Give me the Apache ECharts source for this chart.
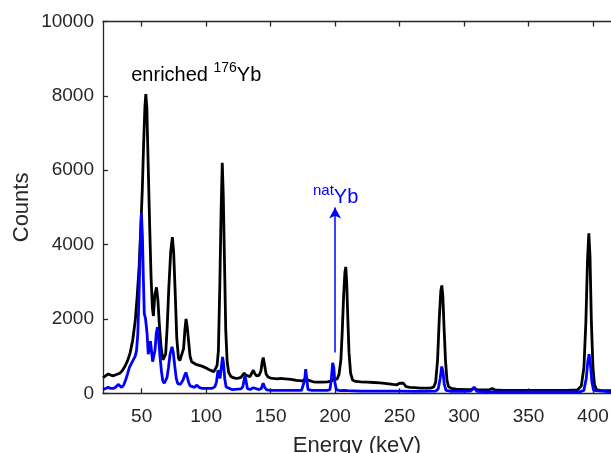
<!DOCTYPE html>
<html>
<head>
<meta charset="utf-8">
<script src="https://cdn.jsdelivr.net/npm/echarts@6/dist/echarts.min.js"></script>
<style>html,body{margin:0;padding:0;background:#fff;}#c{width:611px;height:453px;}</style>
</head>
<body>
<div id="c"></div>
<script>
// ---- data ----
const xTicks = [50, 100, 150, 200, 250, 300, 350, 400];
const yTicks = [0, 2000, 4000, 6000, 8000, 10000];

const enrichedEnergy = [20,22,24,26,28,30,33,35,37,39,41,43,45,46.5,48,49.5,50.5,51.5,52.5,53.2,54,55,56.2,57.3,58.3,59.1,60.2,61.5,62.6,63.6,65,66.5,67.5,68.6,69.8,71,72.5,73.8,74.8,76,77.2,78.5,79.6,81,82.5,83.5,84.4,85.3,86.4,87.5,88.7,90,92,94,96,98,100,102,104,106,107.5,108.5,109.5,110.6,111.6,112.5,113.3,114.2,115.2,116.3,117.5,119,121,123,125,127,128.5,129.5,130.2,131.2,132.5,134,135.5,136.6,137.6,139,141,142.5,143.5,144.3,145.3,146.5,148,150,152,155,158,161,164,167,170,173,175,176.5,177.5,178.5,180,183,186,190,194,197,199,200,201.5,203,204.5,205.6,206.6,207.6,208.3,209,209.8,210.8,212,213.5,216,220,225,230,235,240,245,248,250,251.5,253,255,258,262,266,270,274,276.5,278,279.5,280.8,282,282.8,283.6,284.6,285.7,286.8,288,290,294,300,305,308,310,315,320,322,324,330,340,350,360,370,380,388,391,393,394.5,395.8,396.8,397.7,398.8,400,401.2,403,407,414];
const enrichedCounts = [420,470,520,490,470,500,540,610,720,870,1080,1420,1950,2600,3400,4600,5500,6700,7700,8050,7700,6200,4500,3100,2300,2080,2650,2850,2500,1900,1250,900,850,1050,1800,2800,3800,4200,3800,2700,1500,950,880,930,1200,1700,2000,1800,1400,1000,850,800,780,760,740,710,680,640,610,580,600,750,1150,2900,4900,6200,5300,3600,1700,850,560,460,420,400,410,430,470,540,560,480,440,450,500,620,540,470,480,600,850,960,760,520,440,410,400,390,400,390,380,370,350,340,330,340,420,360,310,310,300,300,310,330,380,370,380,500,900,1700,2600,3250,3400,3000,2100,1100,550,360,320,310,300,290,280,260,240,230,270,320,270,180,160,150,140,140,140,170,300,900,2000,2750,2900,2600,1700,850,350,180,130,110,100,100,130,100,90,100,130,90,80,80,80,80,80,80,90,200,700,1900,3600,4300,3700,1900,700,230,90,70,70];

const natEnergy = [20,22,24,26,28,30,31.8,33,34.5,36,37.5,39,40.5,42,43.5,45,46,47,48,49,49.8,50.6,51.3,52,53,54.2,55.1,56,56.8,57.6,58.5,59.3,60.3,61.3,62.2,63.1,64.2,65.3,66.3,67.5,68.5,69.6,70.8,72,73.5,74.5,75.6,76.8,78,80,82,83.3,84.3,85.3,86.4,87.5,89,91,92.8,94.5,97,100,103,105,106.8,108,109.2,110,110.8,111.8,112.7,113.5,114.4,115.5,117,120,124,127,128.5,129.4,130.1,131,132,134,136.6,138,141,142.8,144.2,145.4,147,150,155,160,165,170,174,175.5,176.4,177.2,178,179,182,186,190,194,196,197,198.1,199,199.8,201,204,207,208.5,210,220,230,240,250,260,270,278,280,281.5,282.7,283.6,284.7,286,290,300,305,306.8,307.8,308.8,310,320,330,340,350,360,370,380,390,393,394.8,396,397,398,399.2,400.5,402,414];
const natCounts = [100,130,160,130,130,170,240,200,160,220,350,520,700,800,900,1000,1150,1600,2700,4100,4850,4200,3100,2150,2000,1600,1050,1200,1400,1150,850,800,1150,1600,1780,1500,1000,600,350,270,280,420,700,1050,1250,1100,750,400,260,240,350,480,560,450,300,200,150,160,220,160,130,130,130,140,180,300,620,550,400,700,980,800,400,170,120,100,110,120,180,350,470,320,130,100,150,100,100,130,270,160,90,80,80,80,80,80,80,120,350,650,400,100,80,80,80,80,100,350,820,700,300,90,70,80,120,70,60,60,60,60,50,50,60,120,400,720,600,250,80,50,50,60,110,170,110,50,40,40,40,40,40,40,40,40,80,400,850,1050,800,300,80,40,40];

// annotation anchors (data coordinates)
const arrowEnergy = 200, arrowFrom = 1100, arrowTo = 5000;
const enrichedLabelAt = [41.5, 8660];
const natLabelAt = [182.5, 5380];

// ---- chart ----
const toPairs = (xs, ys) => xs.map((x, i) => [x, ys[i]]);
const axisColor = '#262626';
const font = "'Liberation Sans', Arial, Helvetica, sans-serif";

const chart = echarts.init(document.getElementById('c'), null, {renderer: 'canvas'});
chart.setOption({
  animation: false,
  backgroundColor: '#ffffff',
  grid: {left: 103, top: 21.5, right: 0, bottom: 59.7, containLabel: false, outerBoundsMode: 'none'},
  xAxis: [{
    type: 'value', min: 20, max: 414, position: 'bottom',
    name: 'Energy (keV)', nameLocation: 'middle', nameGap: 42, nameMoveOverlap: false,
    nameTextStyle: {color: axisColor, fontSize: 22, fontFamily: font},
    axisLine: {show: true, onZero: false, lineStyle: {color: axisColor, width: 1.3}},
    axisTick: {show: true, inside: true, length: 5, customValues: xTicks, lineStyle: {color: axisColor, width: 1.3}},
    axisLabel: {show: true, customValues: xTicks, color: axisColor, fontSize: 19, fontFamily: font, margin: 14},
    splitLine: {show: false}
  }, {
    type: 'value', min: 20, max: 414, position: 'top',
    axisLine: {show: true, onZero: false, lineStyle: {color: axisColor, width: 1.3}},
    axisTick: {show: true, inside: true, length: 5, customValues: xTicks, lineStyle: {color: axisColor, width: 1.3}},
    axisLabel: {show: false},
    splitLine: {show: false}
  }],
  yAxis: [{
    type: 'value', min: 0, max: 10000, interval: 2000, position: 'left',
    name: 'Counts', nameLocation: 'middle', nameGap: 70, nameMoveOverlap: false,
    nameTextStyle: {color: axisColor, fontSize: 22, fontFamily: font},
    axisLine: {show: true, onZero: false, lineStyle: {color: axisColor, width: 1.3}},
    axisTick: {show: true, inside: true, length: 5, lineStyle: {color: axisColor, width: 1.3}},
    axisLabel: {show: true, color: axisColor, fontSize: 19, fontFamily: font, margin: 9,
      formatter: v => yTicks.includes(v) ? String(v) : ''},
    splitLine: {show: false}
  }],
  series: [{
    type: 'line', name: 'enriched 176Yb', xAxisIndex: 0, yAxisIndex: 0,
    data: toPairs(enrichedEnergy, enrichedCounts),
    symbol: 'none', smooth: false,
    lineStyle: {color: '#000000', width: 2.8},
    markPoint: {
      silent: true, symbol: 'circle', symbolSize: 1, itemStyle: {color: 'rgba(0,0,0,0)'},
      data: [{coord: enrichedLabelAt}],
      label: {
        show: true, position: 'right', distance: 0,
        formatter: '{a|enriched }{s|176}{a|Yb}',
        rich: {
          a: {fontSize: 20, fontFamily: font, color: '#000', lineHeight: 28, verticalAlign: 'bottom'},
          s: {fontSize: 14, fontFamily: font, color: '#000', lineHeight: 14, verticalAlign: 'top', padding: [4, 0, 0, 0]}
        }
      }
    }
  }, {
    type: 'line', name: 'natYb', xAxisIndex: 0, yAxisIndex: 0,
    data: toPairs(natEnergy, natCounts),
    symbol: 'none', smooth: false,
    lineStyle: {color: '#0000ff', width: 2.8},
    markPoint: {
      silent: true, symbol: 'circle', symbolSize: 1, itemStyle: {color: 'rgba(0,0,0,0)'},
      data: [{coord: natLabelAt}],
      label: {
        show: true, position: 'right', distance: 0,
        formatter: '{s|nat}{a|Yb}',
        rich: {
          a: {fontSize: 20, fontFamily: font, color: '#0000ff', lineHeight: 28, verticalAlign: 'bottom'},
          s: {fontSize: 15, fontFamily: font, color: '#0000ff', lineHeight: 15, verticalAlign: 'top', padding: [4, 0, 0, 0]}
        }
      }
    },
    markLine: {
      silent: true, animation: false,
      symbol: ['none', 'arrow'], symbolSize: [9, 11],
      label: {show: false},
      lineStyle: {color: '#0000ff', width: 1.5, type: 'solid'},
      data: [[{coord: [arrowEnergy, arrowFrom]}, {coord: [arrowEnergy, arrowTo]}]]
    }
  }]
});
</script>
</body>
</html>
